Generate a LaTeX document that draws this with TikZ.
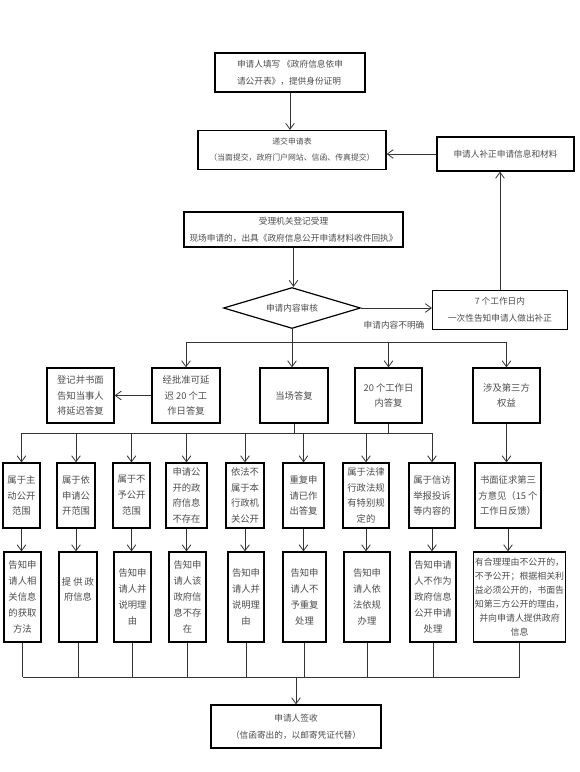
\documentclass[tikz,border=0pt]{standalone}
\usepackage{fontspec}
\setmainfont{Noto Sans CJK SC}
\usetikzlibrary{shapes.geometric,arrows.meta}
\newcommand{\pxu}{0.75pt}
\tikzstyle{box}=[rectangle, draw=black, line width=0.9pt, inner sep=1pt, align=center, text=black!70, font=\fontsize{6.5pt}{12.5pt}\selectfont]
\tikzstyle{colbox}=[box, font=\fontsize{7pt}{11.9pt}\selectfont]
\tikzstyle{annot}=[align=center, text=black!70, font=\fontsize{6.5pt}{8pt}\selectfont]
\tikzstyle{link}=[draw=black!80, line width=0.6pt]
\tikzstyle{arr}=[link, -{Straight Barb[length=4.5pt,width=6.5pt]}]

\begin{document}
\begin{tikzpicture}[x=0.75pt,y=-0.75pt]
	\useasboundingbox (0,0) rectangle (580,772);

	% top part
	\node[box, minimum width=150*\pxu, minimum height=39*\pxu, align=left](apply) at (290,72.5){申请人填写 《政府信息依申\\请公开表》，提供身份证明};
	\node[box, minimum width=188*\pxu, minimum height=39*\pxu, font=\fontsize{5.9pt}{12pt}\selectfont](submit) at (292,150){递交申请表\\（当面提交，政府门户网站、信函、传真提交）};
	\node[box, minimum width=137*\pxu, minimum height=34*\pxu](supplement) at (505.5,154){申请人补正申请信息和材料};
	\node[box, minimum width=219*\pxu, minimum height=35*\pxu](accept) at (293.5,229.5){受理机关登记受理\\现场申请的，出具《政府信息公开申请材料收件回执》};
	\node[box, diamond, aspect=3.3, inner sep=0pt, minimum width=137*\pxu, minimum height=41*\pxu](review) at (292,308){申请内容审核};
	\node[box, minimum width=135*\pxu, minimum height=39*\pxu](notify7) at (500,310){7 个工作日内\\一次性告知申请人做出补正};
	\node[annot](unclear) at (394,325){申请内容不明确};

	% second row
	\node[colbox, minimum width=67*\pxu, minimum height=55*\pxu](notice) at (80.5,395.5){登记并书面\\告知当事人\\将延迟答复};
	\node[colbox, minimum width=68*\pxu, minimum height=55*\pxu](delay) at (186,395.5){经批准可延\\迟 20 个工\\作日答复};
	\node[colbox, minimum width=68*\pxu, minimum height=55*\pxu](onspot) at (294,395.5){当场答复};
	\node[colbox, minimum width=67*\pxu, minimum height=55*\pxu](within20) at (388.5,395.5){20 个工作日\\内答复};
	\node[colbox, minimum width=67*\pxu, minimum height=55*\pxu](third) at (506.5,395.5){涉及第三方\\权益};

	% third row
	\node[colbox, minimum width=37*\pxu, minimum height=65*\pxu](r1) at (21.5,495.5){属于主\\动公开\\范围};
	\node[colbox, minimum width=38*\pxu, minimum height=65*\pxu](r2) at (76,495.5){属于依\\申请公\\开范围};
	\node[colbox, minimum width=37*\pxu, minimum height=65*\pxu](r3) at (131.5,495.5){属于不\\予公开\\范围};
	\node[colbox, minimum width=41*\pxu, minimum height=65*\pxu](r4) at (186.5,495.5){申请公\\开的政\\府信息\\不存在};
	\node[colbox, minimum width=38*\pxu, minimum height=65*\pxu](r5) at (245,495.5){依法不\\属于本\\行政机\\关公开};
	\node[colbox, minimum width=41*\pxu, minimum height=65*\pxu](r6) at (303.5,495.5){重复申\\请已作\\出答复};
	\node[colbox, minimum width=46*\pxu, minimum height=65*\pxu](r7) at (366,495.5){属于法律\\行政法规\\有特别规\\定的};
	\node[colbox, minimum width=46*\pxu, minimum height=65*\pxu](r8) at (432,495.5){属于信访\\举报投诉\\等内容的};
	\node[colbox, minimum width=66*\pxu, minimum height=65*\pxu](r9) at (508,495.5){书面征求第三\\方意见（15 个\\工作日反馈）};

	% fourth row
	\node[colbox, minimum width=37*\pxu, minimum height=90*\pxu](s1) at (22.5,597){告知申\\请人相\\关信息\\的获取\\方法};
	\node[colbox, minimum width=38*\pxu, minimum height=90*\pxu](s2) at (78,597){提 供 政\\府信息\\ };
	\node[colbox, minimum width=37*\pxu, minimum height=90*\pxu](s3) at (132.5,597){告知申\\请人并\\说明理\\由};
	\node[colbox, minimum width=37*\pxu, minimum height=90*\pxu](s4) at (187.5,597){告知申\\请人该\\政府信\\息不存\\在};
	\node[colbox, minimum width=36*\pxu, minimum height=90*\pxu](s5) at (246,597){告知申\\请人并\\说明理\\由};
	\node[colbox, minimum width=43*\pxu, minimum height=90*\pxu](s6) at (304.5,597){告知申\\请人不\\予重复\\处理};
	\node[colbox, minimum width=46*\pxu, minimum height=90*\pxu](s7) at (367,597){告知申\\请人依\\法依规\\办理};
	\node[colbox, minimum width=46*\pxu, minimum height=90*\pxu](s8) at (433,597){告知申请\\人不作为\\政府信息\\公开申请\\处理};
	\node[colbox, minimum width=89*\pxu, minimum height=90*\pxu, font=\fontsize{6.7pt}{10.5pt}\selectfont](s9) at (519.5,597){有合理理由不公开的，\\不予公开；根据相关利\\益必须公开的，书面告\\知第三方公开的理由，\\并向申请人提供政府\\信息};

	\node[box, minimum width=170*\pxu, minimum height=43*\pxu](sign) at (296,726.5){申请人签收\\（信函寄出的，以邮寄凭证代替）};

	% connectors
	\draw[arr] (apply.south) -- (apply.south |- submit.north);
	\draw[arr] (accept.south) -- (accept.south |- review.north);
	\draw[arr] (review.east) -- (review.east -| notify7.west);
	\draw[arr] (notify7.north) -- (notify7.north |- supplement.south);
	\draw[arr] (supplement.west) -- (supplement.west -| submit.east);

	\coordinate (fork) at (292,342);
	\draw[link] (review.south) -- (fork);
	\draw[arr] (fork) -| (delay.north);
	\draw[arr] (fork) -- (fork |- onspot.north);
	\draw[arr] (fork) -| (within20.north);
	\draw[arr] (fork) -| (third.north);
	\draw[arr] (delay.west) -- (notice.east);

	\coordinate (bus3) at (0,433);
	\draw[link] (onspot.south) -- (onspot.south |- bus3);
	\draw[link] (within20.south) -- (within20.south |- bus3);
	\draw[link] (r1.north |- bus3) -- (r8.north |- bus3);
	\foreach \n in {1,...,8}
		\draw[arr] (r\n.north |- bus3) -- (r\n.north);
	\draw[arr] (third.south) -- (third.south |- r9.north);

	\foreach \n in {1,...,9}
		\draw[arr] (r\n.south) -- (r\n.south |- s\n.north);

	\coordinate (bus4) at (0,677);
	\foreach \n in {1,...,9}
		\draw[link] (s\n.south) -- (s\n.south |- bus4);
	\draw[link] (s1.south |- bus4) -- (s9.south |- bus4);
	\draw[arr] (sign.north |- bus4) -- (sign.north);

\end{tikzpicture}
\end{document}
